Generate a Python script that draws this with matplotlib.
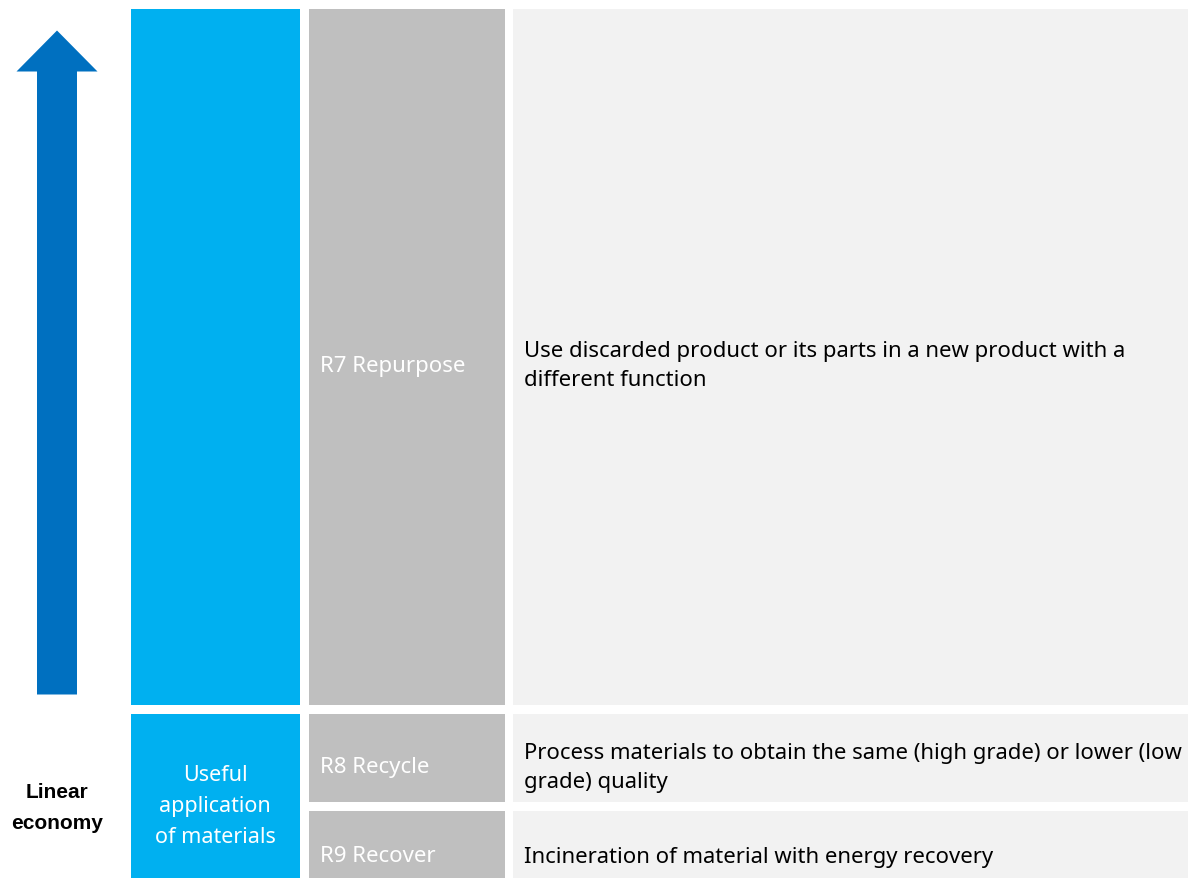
import matplotlib
matplotlib.use("Agg")
import matplotlib.pyplot as plt
from matplotlib.patches import Rectangle, FancyArrow

# ---- content ----
r_labels = ["R7 Repurpose", "R8 Recycle", "R9 Recover"]
descriptions = [
    "Use discarded product or its parts in a new product with a\ndifferent function",
    "Process materials to obtain the same (high grade) or lower (low\ngrade) quality",
    "Incineration of material with energy recovery",
]
group_label = "Useful\napplication\nof materials"
axis_label = "Linear\neconomy"

# ---- layout (pixel space) ----
W, H = 1188, 879
row_tops = [9.5, 714.5, 812.5]
row_bots = [705.5, 802.5, 879]
label_y = [367, 768, 857]
desc_y = [366.5, 768, 858]
BLUE = "#00B0F0"
DARK_BLUE = "#0070C0"
GRAY = "#BFBFBF"
LIGHT = "#F2F2F2"
FONT = ["Noto Sans", "DejaVu Sans"]

fig = plt.figure(figsize=(W / 100, H / 100), dpi=100)
ax = fig.add_axes([0, 0, 1, 1])
ax.set_xlim(0, W)
ax.set_ylim(H, 0)
ax.axis("off")

# arrow
ax.add_patch(FancyArrow(57, 695.5, 0, -664, width=40, head_width=81, head_length=41,
                        length_includes_head=True, color=DARK_BLUE, lw=0))

# blue column: top block and bottom group block
ax.add_patch(Rectangle((131, 9.5), 169, 696, color=BLUE, lw=0))
ax.add_patch(Rectangle((131, 714.5), 169, H - 714.5, color=BLUE, lw=0))
ax.text(215, 806.5, group_label, ha="center", va="center", color="white",
        fontsize=15.5, family=FONT, linespacing=1.62)

# linear economy text
ax.text(57, 808, axis_label, ha="center", va="center", color="black",
        fontsize=15, family=["Liberation Sans", "DejaVu Sans"], fontweight="bold",
        linespacing=1.85)

# rows
for lab, desc, t, b, ly, dy in zip(r_labels, descriptions, row_tops, row_bots, label_y, desc_y):
    ax.add_patch(Rectangle((309, t), 196, b - t, color=GRAY, lw=0))
    ax.add_patch(Rectangle((513, t), W - 513, b - t, color=LIGHT, lw=0))
    ax.text(320, ly, lab, ha="left", va="center", color="white", fontsize=16, family=FONT)
    ax.text(524, dy, desc, ha="left", va="center", color="black", fontsize=15.9,
            family=FONT, linespacing=1.5)

fig.savefig("out.png", dpi=100)
